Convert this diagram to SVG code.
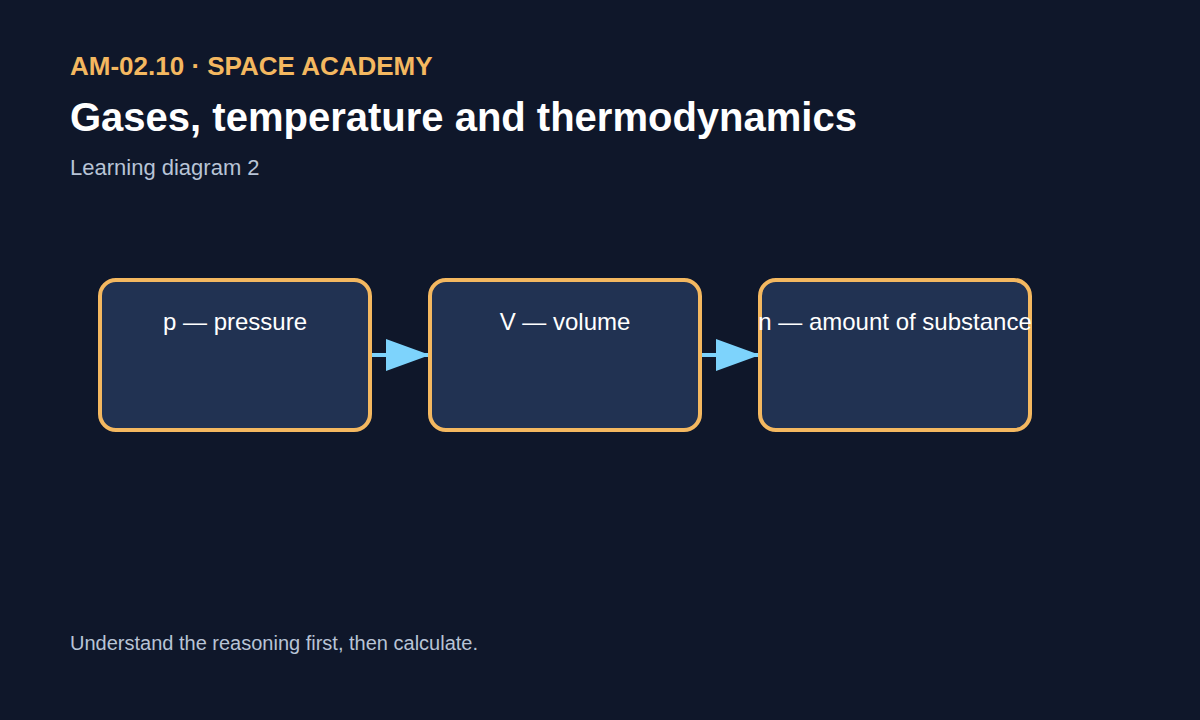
<svg xmlns="http://www.w3.org/2000/svg" width="1200" height="720" viewBox="0 0 1200 720">
<style>
.box{fill:#213252;stroke:#f4b860;stroke-width:4}
.lbl{font-family:"Liberation Sans",Arial,sans-serif;font-size:24px;fill:#ffffff;text-anchor:middle}
.conn{stroke:#7dd3fc;stroke-width:4;fill:none}
</style>
<defs>
<marker id="ah" viewBox="0 0 44 32" refX="44" refY="16" markerWidth="44" markerHeight="32" markerUnits="userSpaceOnUse" orient="auto">
<path d="M0,0 L44,16 L0,32 Z" fill="#7dd3fc"/>
</marker>
</defs>
<rect width="1200" height="720" fill="#0f172a"/>
<text x="70" y="75" font-family="Liberation Sans,Arial,sans-serif" font-size="26" font-weight="bold" fill="#f4b860">AM-02.10 · SPACE ACADEMY</text>
<text x="70" y="131" font-family="Liberation Sans,Arial,sans-serif" font-size="40" font-weight="bold" fill="#ffffff">Gases, temperature and thermodynamics</text>
<text x="70" y="175" font-family="Liberation Sans,Arial,sans-serif" font-size="22" fill="#b8c4d6">Learning diagram 2</text>
<g id="connectors">
<line class="conn" x1="370" y1="355" x2="430" y2="355" marker-end="url(#ah)"/>
<line class="conn" x1="700" y1="355" x2="760" y2="355" marker-end="url(#ah)"/>
</g>
<g id="node1"><rect class="box" x="100" y="280" width="270" height="150" rx="16"/><text class="lbl" x="235" y="330">p — pressure</text></g>
<g id="node2"><rect class="box" x="430" y="280" width="270" height="150" rx="16"/><text class="lbl" x="565" y="330">V — volume</text></g>
<g id="node3"><rect class="box" x="760" y="280" width="270" height="150" rx="16"/><text class="lbl" x="895" y="330">n — amount of substance</text></g>
<text x="70" y="650" font-family="Liberation Sans,Arial,sans-serif" font-size="20" fill="#b8c4d6">Understand the reasoning first, then calculate.</text>
</svg>
